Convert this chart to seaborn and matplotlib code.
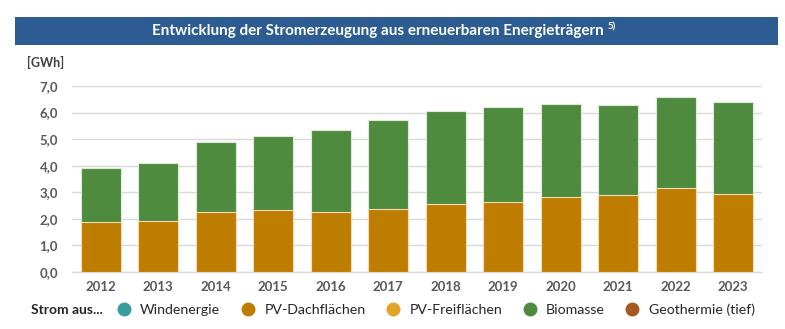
import matplotlib
matplotlib.use("Agg")
import matplotlib.pyplot as plt
import seaborn as sns
import pandas as pd
import numpy as np
from matplotlib.patches import Rectangle
from matplotlib.lines import Line2D

years = ["2012", "2013", "2014", "2015", "2016", "2017", "2018", "2019", "2020", "2021", "2022", "2023"]
pv_dach = [1.87, 1.92, 2.26, 2.34, 2.24, 2.35, 2.55, 2.64, 2.80, 2.88, 3.17, 2.94]
biomasse = [2.05, 2.16, 2.63, 2.76, 3.10, 3.35, 3.52, 3.55, 3.51, 3.39, 3.40, 3.47]
legend_labels = ["Windenergie", "PV-Dachflächen", "PV-Freiflächen", "Biomasse", "Geothermie (tief)"]
legend_colors = ["#3A9C9C", "#BF7D00", "#E3A228", "#4E8B3F", "#A5581F"]
yticks = [0, 1, 2, 3, 4, 5, 6, 7]

sns.set_theme(style="white")
plt.rcParams["font.family"] = ["Lato", "DejaVu Sans"]

df = pd.DataFrame({"Jahr": years, "PV": pv_dach, "Bio": biomasse})
df["Total"] = df["PV"] + df["Bio"]

fig = plt.figure(figsize=(7.85, 3.29), dpi=100)
ax = fig.add_axes([72/785, 1-271.7/329, 690/785, (271.7-86)/329])

sns.barplot(data=df, x="Jahr", y="Total", color=legend_colors[3], width=0.69,
            edgecolor="#DDEBD8", linewidth=0.8, saturation=1, ax=ax, zorder=3)
sns.barplot(data=df, x="Jahr", y="PV", color=legend_colors[1], width=0.69,
            edgecolor="#F0DDB8", linewidth=0.8, saturation=1, ax=ax, zorder=4)

ax.set_ylim(0, 7)
ax.set_xlim(-0.5, 11.5)
ax.set_yticks(yticks)
ax.set_yticklabels([f"{v:.1f}".replace(".", ",") for v in yticks])
ax.set_xlabel("")
ax.set_ylabel("")
ax.yaxis.grid(True, color="#D9D9D9", linewidth=1, zorder=0)
ax.set_axisbelow(True)
for s in ["top", "right", "left"]:
    ax.spines[s].set_visible(False)
ax.spines["bottom"].set_color("#D9D9D9")
ax.spines["bottom"].set_linewidth(1)
ax.tick_params(axis="both", length=0, labelsize=9.5, labelcolor="#595959")
ax.tick_params(axis="y", pad=10)
ax.tick_params(axis="x", pad=7)
for lab in ax.get_xticklabels() + ax.get_yticklabels():
    lab.set_fontweight("bold")

# Title banner
fig.patches.append(Rectangle((15/785, 1-45/329), 763/785, 28/329, transform=fig.transFigure,
                             facecolor="#2D5C93", edgecolor="none", zorder=0))
t = fig.text(378/785, 1-31/329, "Entwicklung der Stromerzeugung aus erneuerbaren Energieträgern",
             ha="center", va="center", color="white", fontsize=11, fontweight="bold")
fig.canvas.draw()
bb = t.get_window_extent()
fig.text((bb.x1 + 4)/785, 1-27/329, "5)", ha="left", va="center", color="white", fontsize=7, fontweight="bold")

fig.text(27/785, 1-62/329, "[GWh]", ha="left", va="center", color="#404040", fontsize=9, fontweight="bold")

# Legend
fig.text(31/785, 1-310/329, "Strom aus...", ha="left", va="center", color="#262626", fontsize=10, fontweight="bold")
handles = [Line2D([0], [0], marker="o", linestyle="none", markersize=9,
                  markerfacecolor=c, markeredgecolor=c) for c in legend_colors]
fig.legend(handles, legend_labels, loc="center left", bbox_to_anchor=(114/785, 1-310/329),
           ncol=5, frameon=False, fontsize=10.2, handletextpad=0.45, columnspacing=1.25,
           labelcolor="#262626", handlelength=1.4, borderaxespad=0, borderpad=0)

fig.savefig("out.png", dpi=100)
